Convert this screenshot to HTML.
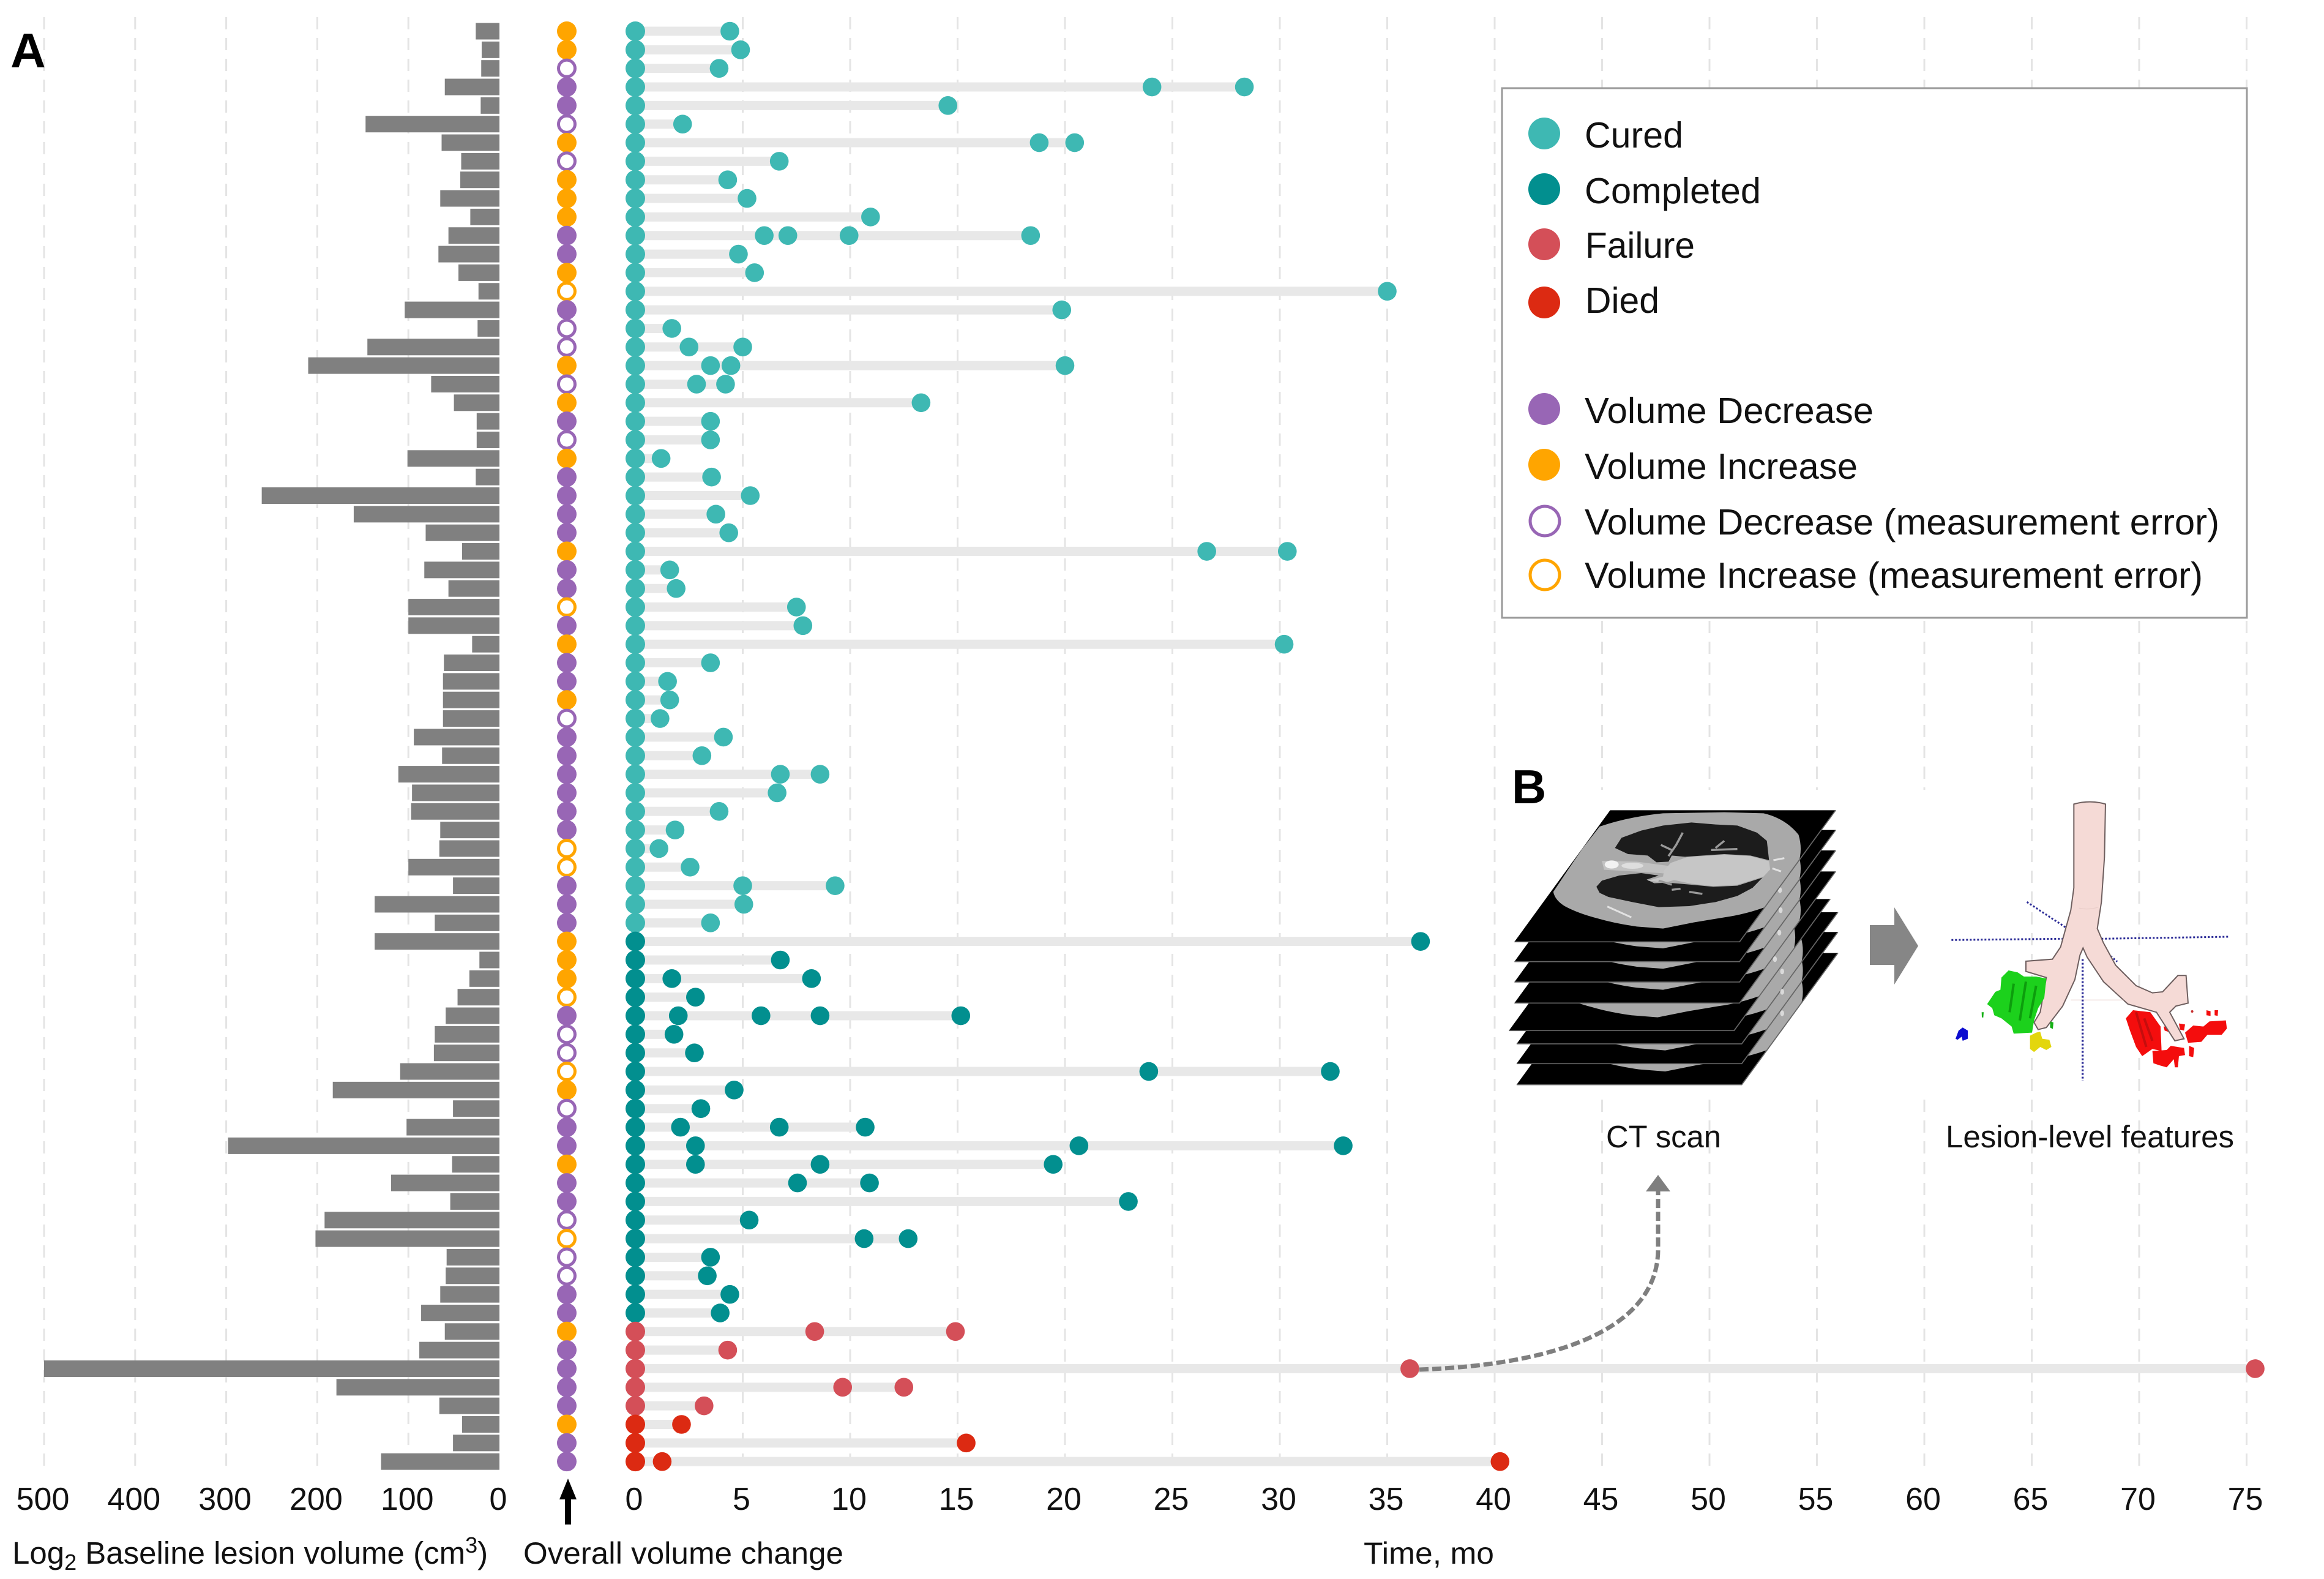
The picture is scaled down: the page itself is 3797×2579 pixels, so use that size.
<!DOCTYPE html>
<html lang="en">
<head>
<meta charset="utf-8">
<title>Lesion volume and follow-up timeline</title>
<style>
html,body{margin:0;padding:0;background:#fff;}
svg{display:block;}
text{font-family:"Liberation Sans",sans-serif;fill:#111;}
</style>
</head>
<body>
<svg id="chart" xmlns="http://www.w3.org/2000/svg" width="3797" height="2579" viewBox="0 0 3797 2579">
  <defs>
    <clipPath id="slice-clip"><polygon points="478,40 1510,40 1070,685 40,685"/></clipPath>
    <g id="ct-slice">
      <polygon points="478,40 1510,40 1070,685 40,685" fill="#000"/>
      <path clip-path="url(#slice-clip)" d="M430,120 Q560,72 720,55 L1000,50 L1180,55 Q1280,80 1340,160 Q1362,240 1335,310 L1280,410 Q1250,470 1200,510 Q1100,550 1000,565 L860,590 L720,620 L600,610 Q500,595 420,570 Q330,545 270,510 Q225,480 218,440 L280,340 L350,230 Z" fill="#a9a9a9"/>
      <path d="M40,685 L1070,685 L1510,40" fill="none" stroke="#666" stroke-width="5"/>
    </g>
    <filter id="soft" x="-5%" y="-5%" width="110%" height="110%"><feGaussianBlur stdDeviation="1"/></filter>
  </defs>

  <rect width="3797" height="2579" fill="#fff"/>
  <g id="grid-layer"></g>
  <g id="bar-layer"></g>
  <g id="status-layer"></g>
  <g id="timeline-layer"></g>
  <g id="tick-layer"></g>

  <text x="17" y="110" font-size="80" font-weight="700" style="fill:#000">A</text>

  <text x="20" y="2554" font-size="51">Log<tspan font-size="36" dy="10">2</tspan><tspan dy="-10"> Baseline lesion volume (cm</tspan><tspan font-size="36" dy="-18">3</tspan><tspan dy="18">)</tspan></text>
  <text x="855" y="2554" font-size="50" textLength="523" lengthAdjust="spacingAndGlyphs">Overall volume change</text>
  <text x="2228" y="2554" font-size="50" textLength="213" lengthAdjust="spacingAndGlyphs">Time, mo</text>

  <g fill="#000">
    <rect x="923" y="2440" width="10" height="50"/>
    <polygon points="928,2415 942,2449 914,2449"/>
  </g>

  <g>
    <rect x="2454" y="144" width="1217" height="865" fill="#fff" stroke="#9a9a9a" stroke-width="3"/>
    <g><circle cx="2523" cy="218" r="26" fill="#3eb8b3"/><text x="2589" y="241" font-size="59" textLength="161" lengthAdjust="spacingAndGlyphs">Cured</text></g>
    <g><circle cx="2523" cy="309" r="26" fill="#028f8f"/><text x="2589" y="332" font-size="59" textLength="288" lengthAdjust="spacingAndGlyphs">Completed</text></g>
    <g><circle cx="2523" cy="399" r="26" fill="#d44f58"/><text x="2590" y="421" font-size="59" textLength="179" lengthAdjust="spacingAndGlyphs">Failure</text></g>
    <g><circle cx="2523" cy="494" r="26" fill="#dc2a12"/><text x="2590" y="511" font-size="59" textLength="121" lengthAdjust="spacingAndGlyphs">Died</text></g>
    <g><circle cx="2523" cy="668" r="26" fill="#9866b5"/><text x="2589" y="691" font-size="59" textLength="472" lengthAdjust="spacingAndGlyphs">Volume Decrease</text></g>
    <g><circle cx="2523" cy="759" r="26" fill="#ffa500"/><text x="2589" y="782" font-size="59" textLength="446" lengthAdjust="spacingAndGlyphs">Volume Increase</text></g>
    <g><circle cx="2524" cy="851" r="24" fill="#fff" stroke="#9866b5" stroke-width="5"/><text x="2589" y="873" font-size="59" textLength="1037" lengthAdjust="spacingAndGlyphs">Volume Decrease (measurement error)</text></g>
    <g><circle cx="2524" cy="939" r="24" fill="#fff" stroke="#ffa500" stroke-width="5"/><text x="2589" y="960" font-size="59" textLength="1010" lengthAdjust="spacingAndGlyphs">Volume Increase (measurement error)</text></g>
  </g>

  <rect x="2456" y="1290" width="704" height="500" fill="#fff"/>
  <text x="2470" y="1312" font-size="78" font-weight="700" style="fill:#000">B</text>

  <g filter="url(#soft)" transform="translate(2460,1310) scale(.3571,.3333)">
    <use href="#ct-slice" transform="translate(10,700)"/>
    <use href="#ct-slice" transform="translate(10,597)"/>
    <use href="#ct-slice" transform="translate(10,500)"/>
    <use href="#ct-slice" transform="translate(-25,435)"/>
    <use href="#ct-slice" transform="translate(0,300)"/>
    <use href="#ct-slice" transform="translate(0,197)"/>
    <use href="#ct-slice" transform="translate(0,97)"/>
    <g fill="#dadada">
      <ellipse cx="1255" cy="432" rx="9" ry="14"/><ellipse cx="1258" cy="530" rx="9" ry="14"/><ellipse cx="1252" cy="640" rx="9" ry="14"/>
      <ellipse cx="1232" cy="770" rx="9" ry="14"/><ellipse cx="1265" cy="830" rx="9" ry="14"/><ellipse cx="1265" cy="930" rx="9" ry="14"/><ellipse cx="1265" cy="1035" rx="9" ry="14"/>
    </g>
    <use href="#ct-slice"/>
    <path d="M440,288 L600,292 L760,315 L730,350 L620,342 L450,332 Z" fill="#c2c2c2"/>
    <ellipse cx="485" cy="306" rx="32" ry="20" fill="#f2f2f2"/>
    <ellipse cx="580" cy="312" rx="50" ry="15" fill="#dedede"/>
    <path d="M500,225 L530,175 L620,140 L720,115 L850,100 L960,110 L1060,115 L1150,150 L1195,190 L1205,285 L1120,262 L1000,255 L820,268 L760,262 L745,292 L690,295 L650,262 L560,255 Z" fill="#1c1c1c"/>
    <path d="M415,415 L440,385 L520,360 L620,348 L700,360 L645,380 L680,398 L740,395 L850,405 L950,415 L1060,410 L1175,370 L1130,420 L1060,460 L960,490 L840,510 L700,515 L580,490 L470,465 L430,445 Z" fill="#1f1f1f"/>
    <path d="M755,298 L830,270 L1000,258 L1120,265 L1205,290 L1210,330 L1180,365 L1060,405 L950,412 L850,400 L770,382 L730,395 L650,385 L720,365 L725,335 Z" fill="#c6c6c6"/>
    <path d="M745,265 L780,210 L810,150 M760,235 L710,210 M960,225 L1000,190 M940,235 L1060,230 M700,385 L760,405 M760,430 L800,425 M840,440 L900,450" stroke="#9a9a9a" stroke-width="10" fill="none"/>
    <path d="M465,512 L575,565 M1225,285 L1275,275 M1220,325 L1260,340" stroke="#e2e2e2" stroke-width="9" fill="none"/>
  </g>

  <polygon points="3055,1511 3095,1511 3095,1482 3134,1545 3095,1608 3095,1576 3055,1576" fill="#868686"/>

  <g filter="url(#soft)" transform="translate(3170,1300) scale(.3333)">
    <g stroke="#2a2a96" stroke-width="9" stroke-dasharray="9 9" fill="none">
      <path d="M55,706 L600,700"/>
      <path d="M790,700 L1415,690"/>
      <path d="M425,520 L685,690 M835,785 L868,812"/>
    </g>
    <g fill="#f40808">
      <path d="M945,1050 L1030,1060 L1080,1130 L1085,1250 L1040,1240 L990,1275 L960,1230 L930,1150 L910,1090 Z"/>
      <path d="M1040,1250 L1110,1245 L1130,1225 L1195,1235 L1200,1270 L1170,1275 L1165,1330 L1150,1330 L1145,1290 L1110,1330 L1075,1320 L1045,1310 Z"/>
      <path d="M1200,1160 L1240,1125 L1290,1130 L1320,1105 L1400,1100 L1405,1140 L1380,1170 L1310,1170 L1280,1205 L1215,1210 Z"/>
      <path d="M1170,1115 L1200,1120 L1195,1150 L1175,1145 Z M1220,1225 L1245,1235 L1240,1280 L1220,1275 Z M1305,1050 L1325,1055 L1325,1078 L1305,1075 Z M1345,1050 L1362,1050 L1360,1078 L1345,1075 Z"/>
      <path d="M1095,1130 L1120,1130 L1130,1160 L1100,1150 Z"/>
      <circle cx="1235" cy="1056" r="6" fill="#c83030"/>
    </g>
    <path d="M960,1060 L1010,1230 M1000,1090 L1040,1200" stroke="#c51010" stroke-width="12" fill="none"/>
    <path d="M655,40 Q735,18 810,40 L805,300 L790,520 L770,650 L800,720 L860,830 L960,930 L1040,965 L1090,960 L1165,880 L1205,880 L1215,1015 L1155,1030 L1125,1060 L1195,1190 L1150,1200 L1060,1060 L920,1020 L800,910 L720,790 L700,745 L685,780 L660,900 L600,1030 L520,1135 L480,1145 L460,1110 L490,1060 L520,890 L420,860 L420,810 L550,800 L590,740 L640,560 L655,450 Z" fill="#f5dad6" stroke="#6e5f5f" stroke-width="6"/>
    <path d="M680,550 Q730,560 775,545 M640,1000 L900,1000" stroke="#e3c6c2" stroke-width="4" fill="none" opacity=".6"/>
    <path d="M335,855 L380,865 L410,885 L470,885 L520,895 L510,990 L480,1040 L460,1100 L450,1160 L360,1165 L350,1130 L300,1090 L265,1075 L255,1040 L230,1020 L270,960 L295,950 L300,890 Z" fill="#1ad11a"/>
    <path d="M360,920 L340,1060 M420,910 L390,1100 M470,930 L440,1090" stroke="#0c9d0c" stroke-width="12" fill="none"/>
    <path d="M540,1105 L555,1110 L552,1142 L538,1135 Z M203,1060 L213,1060 L211,1086 L204,1085 Z" fill="#18b018"/>
    <path d="M470,1160 L490,1155 L500,1190 L535,1195 L545,1230 L520,1245 L490,1230 L460,1255 L440,1240 L440,1175 Z" fill="#e3d60f"/>
    <path d="M110,1135 L135,1150 L135,1190 L110,1200 L105,1180 L85,1195 L75,1190 L90,1150 Z" fill="#1010d0"/>
    <path d="M698,800 L698,1395" stroke="#2a2a96" stroke-width="10" stroke-dasharray="9 9" fill="none"/>
  </g>

  <text x="2624" y="1874" font-size="51" textLength="188" lengthAdjust="spacingAndGlyphs">CT scan</text>
  <text x="3179" y="1874" font-size="51" textLength="471" lengthAdjust="spacingAndGlyphs">Lesion-level features</text>

  <g>
    <path d="M2319,2237 C2520,2230 2709,2180 2709,2040 L2709,1940" fill="none" stroke="#7f7f7f" stroke-width="7" stroke-dasharray="15 6"/>
    <polygon points="2709,1919 2729,1946 2689,1946" fill="#7f7f7f"/>
  </g>
</svg>

<script>
var volumeTicks = [500, 400, 300, 200, 100, 0];
var timeTicks = [0, 5, 10, 15, 20, 25, 30, 35, 40, 45, 50, 55, 60, 65, 70, 75];

var baselineVolumes = [26, 19.5, 20, 60, 20.6, 147, 63.5, 42, 43, 65, 32, 56, 67, 45, 23, 104, 24, 145, 210, 75, 50, 25, 25, 101, 26, 261, 160,
  81, 41, 82.5, 56, 100, 100, 30, 61, 62, 62, 62, 94, 63, 111, 96, 97, 65, 66, 100, 51, 137, 71,
  137, 22, 33, 46, 59, 71, 72, 109, 183, 51, 102, 298, 52, 119, 54, 192, 202, 58, 59, 65, 86,
  60, 88, 500, 179, 66, 41, 51, 130];

var volumeChange = ["inc","inc","decErr","dec","dec","decErr","inc","decErr","inc","inc","inc","dec","dec","inc","incErr","dec","decErr","decErr","inc","decErr","inc","dec","decErr","inc","dec","dec","dec",
  "dec","inc","dec","dec","incErr","dec","inc","dec","dec","inc","decErr","dec","dec","dec","dec","dec","dec","incErr","incErr","dec","dec","dec",
  "inc","inc","inc","incErr","dec","decErr","decErr","incErr","inc","decErr","dec","dec","inc","dec","dec","decErr","incErr","decErr","decErr","dec","dec",
  "inc","dec","dec","dec","dec","inc","dec","dec"];

var outcomes = ["cured","cured","cured","cured","cured","cured","cured","cured","cured","cured","cured","cured","cured","cured","cured","cured","cured","cured","cured","cured","cured","cured","cured","cured","cured","cured","cured",
  "cured","cured","cured","cured","cured","cured","cured","cured","cured","cured","cured","cured","cured","cured","cured","cured","cured","cured","cured","cured","cured","cured",
  "completed","completed","completed","completed","completed","completed","completed","completed","completed","completed","completed","completed","completed","completed","completed","completed","completed","completed","completed","completed","completed",
  "failure","failure","failure","failure","failure","died","died","died"];

var visitTimes = [
  [4.4],[4.9],[3.9],[24.05,28.35],[14.55],[2.2],[18.8,20.45],[6.7],[4.3],[5.2],[10.95],[6.0,7.1,9.95,18.4],[4.8],[5.55],[35.0],[19.85],
  [1.7],[2.5,5.0],[3.5,4.45,20.0],[2.85,4.2],[13.3],[3.5],[3.5],[1.2],[3.55],[5.35],[3.75],[4.35],[26.6,30.35],[1.6],[1.9],[7.5],[7.8],[30.2],
  [3.5],[1.5],[1.6],[1.15],[4.1],[3.1],[6.75,8.6],[6.6],[3.9],[1.85],[1.1],[2.55],[5.0,9.3],[5.05],[3.5],
  [36.55],[6.75],[1.7,8.2],[2.8],[2.0,5.85,8.6,15.15],[1.8],[2.75],[23.9,32.35],[4.6],[3.05],[2.1,6.7,10.7],[2.8,20.65,32.95],[2.8,8.6,19.45],[7.55,10.9],[22.95],[5.3],[10.65,12.7],[3.5],[3.35],[4.4],[3.95],
  [8.35,14.9],[4.3],[36.05,75.4],[9.65,12.5],[3.2],[2.15],[15.4],[1.25,40.25]
];

var outcomeColor = {cured:"#3eb8b3", completed:"#028f8f", failure:"#d44f58", died:"#dc2a12"};
var statusStyle = {
  dec:{fill:"#9866b5"}, inc:{fill:"#ffa500"},
  decErr:{fill:"#fff", stroke:"#9866b5"}, incErr:{fill:"#fff", stroke:"#ffa500"}
};

var NS = "http://www.w3.org/2000/svg";
function xVolume(v){ return 816 - v * 1.488; }
function xTime(t){ return 1038 + t * 35.1; }
function yRow(i){ return 51 + i * 30.34; }
function make(parent, tag, attrs){
  var el = document.createElementNS(NS, tag);
  for (var k in attrs) el.setAttribute(k, attrs[k]);
  parent.appendChild(el);
  return el;
}

var gridLayer = document.getElementById("grid-layer");
var barLayer = document.getElementById("bar-layer");
var statusLayer = document.getElementById("status-layer");
var timelineLayer = document.getElementById("timeline-layer");
var tickLayer = document.getElementById("tick-layer");

volumeTicks.forEach(function(v){
  if (v !== 0) {
    var g = make(gridLayer, "line", {x1:xVolume(v), x2:xVolume(v), y1:28, y2:2405, stroke:"#e4e4e4", "stroke-width":3, "stroke-dasharray":"20 14"});
    
    
  }
  var t = make(tickLayer, "text", {x:xVolume(v) - 2, y:2466, "font-size":52, "text-anchor":"middle"});
  t.textContent = v;
  
  
});

timeTicks.forEach(function(v){
  if (v !== 0) {
    var g = make(gridLayer, "line", {x1:xTime(v), x2:xTime(v), y1:28, y2:2405, stroke:"#e4e4e4", "stroke-width":3, "stroke-dasharray":"20 14"});
    
    
  }
  var t = make(tickLayer, "text", {x:xTime(v) - 2, y:2466, "font-size":52, "text-anchor":"middle"});
  t.textContent = v;
  
  
});

baselineVolumes.forEach(function(v, i){
  var b = make(barLayer, "rect", {x:xVolume(v), y:yRow(i) - 13.5, width:xVolume(0) - xVolume(v), height:27, fill:"#808080"});
  
  
});

volumeChange.forEach(function(s, i){
  var st = statusStyle[s];
  var c = make(statusLayer, "circle", st.stroke
    ? {cx:926, cy:yRow(i), r:13.5, fill:st.fill, stroke:st.stroke, "stroke-width":5}
    : {cx:926, cy:yRow(i), r:16, fill:st.fill});
  
  
});

visitTimes.forEach(function(times, i){
  var last = Math.max.apply(null, times);
  var line = make(timelineLayer, "line", {x1:xTime(0), x2:xTime(last), y1:yRow(i), y2:yRow(i), stroke:"#e8e8e8", "stroke-width":15});
  
  
});

visitTimes.forEach(function(times, i){
  var color = outcomeColor[outcomes[i]];
  var start = make(timelineLayer, "circle", {cx:xTime(0), cy:yRow(i), r:16, fill:color});
  
  
  times.forEach(function(t){
    var d = make(timelineLayer, "circle", {cx:xTime(t), cy:yRow(i), r:15.3, fill:color});
    
    
  });
});
</script>
</body>
</html>
